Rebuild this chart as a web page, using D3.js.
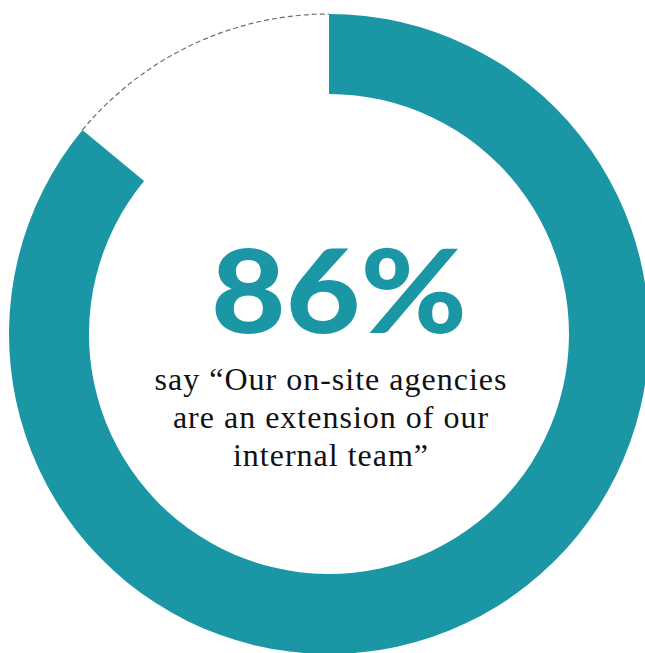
<!DOCTYPE html>
<html>
<head>
<meta charset="utf-8">
<script src="https://cdn.jsdelivr.net/npm/d3@7"></script>
<style>
  body { margin: 0; background: #fff; }
</style>
</head>
<body>
<div id="chart"></div>
<script>
// data
var shareLabels = ["agree", "rest"];
var shareValues = [86, 14];
var bigLabel = "86%";
var captionLines = ["say \u201cOur on-site agencies", "are an extension of our", "internal team\u201d"];

var width = 645, height = 653;
var cx = 329, cy = 334, outerR = 320, innerR = 240;
var teal = "#1a96a5";

var svg = d3.select("#chart")
  .append("svg")
    .attr("width", width)
    .attr("height", height);

var g = svg.append("g")
  .attr("transform", "translate(" + cx + "," + cy + ")");

var pie = d3.pie().sort(null).value(function(d) { return d; });
var arcs = pie(shareValues);

var ring = d3.arc().innerRadius(innerR).outerRadius(outerR);

// filled share
g.append("path")
  .datum(arcs[0])
  .attr("d", ring)
  .attr("fill", teal);

// dashed outline for the remainder (outer curve only)
g.append("path")
  .datum(arcs[1])
  .attr("d", function(d) {
    var p = d3.path();
    p.arc(0, 0, outerR, d.startAngle - Math.PI / 2, d.endAngle - Math.PI / 2);
    return p.toString();
  })
  .attr("fill", "none")
  .attr("stroke", "#6e6e6e")
  .attr("stroke-width", 1.2)
  .attr("stroke-dasharray", "5,3");

// big number, stretched a bit to match the wide geometric face
g.append("text")
  .attr("transform", "translate(10,-1) scale(1.11,1)")
  .attr("text-anchor", "middle")
  .attr("fill", teal)
  .style("font-family", "Lato, 'DejaVu Sans', sans-serif")
  .style("font-weight", 900)
  .style("font-size", "116px")
  .text(bigLabel);

// caption
g.selectAll(".cap")
  .data(captionLines)
  .enter()
  .append("text")
    .attr("class", "cap")
    .attr("x", 2)
    .attr("y", function(d, i) { return 56 + i * 38; })
    .attr("text-anchor", "middle")
    .attr("fill", "#111")
    .style("font-family", "'Liberation Serif', serif")
    .style("font-size", "32px")
    .style("letter-spacing", "1px")
    .text(function(d) { return d; });
</script>
</body>
</html>
